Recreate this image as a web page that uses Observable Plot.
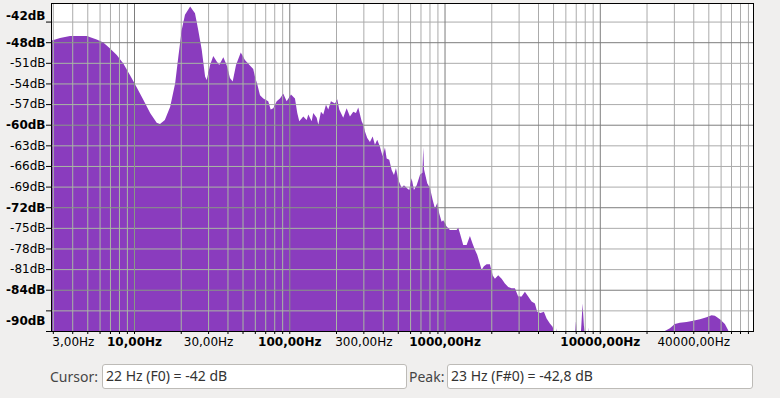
<!DOCTYPE html>
<html><head><meta charset="utf-8">
<script src="https://cdn.jsdelivr.net/npm/d3@7"></script>
<script src="https://cdn.jsdelivr.net/npm/@observablehq/plot@0.6"></script>
<style>
html,body{margin:0;padding:0}
body{background:#f0efee;width:780px;height:398px;overflow:hidden;position:relative;font-family:"Noto Sans",sans-serif}
#chart{position:absolute;left:0;top:0}
.lbl{position:absolute;font-size:14px;color:#454545;line-height:20px}
.box{position:absolute;background:#fff;border:1px solid #bdbbb7;border-radius:3px;box-sizing:border-box;font-size:14px;color:#333;line-height:22px;padding-left:3px;white-space:nowrap}
</style></head><body>
<div id="chart"></div>
<div class="lbl" id="cursorLbl" style="left:50px;top:367px"></div>
<div class="box" id="cursorBox" style="left:102px;top:364px;width:305px;height:25px"></div>
<div class="lbl" id="peakLbl" style="left:409px;top:367px"></div>
<div class="box" id="peakBox" style="left:447px;top:364px;width:306px;height:25px"></div>
<script>
// ---- data ----
const freqHz = [2.92,3.34,3.87,4.96,5.75,6.34,7.01,7.74,8.53,9.43,10.4,11.5,12.7,14.0,14.7,15.8,17.1,18.4,19.3,20.3,21.3,23.0,24.7,25.9,27.3,28.7,29.4,30.9,32.4,34.1,35.4,37.6,39.5,41.5,43.2,45.4,48.7,51.8,55.8,58.6,60.1,62.5,64.8,68.0,73.2,75.9,78.9,83.0,87.1,91.5,96.2,102.6,108.8,112.6,116.0,123.1,129.5,132.6,139.4,142.7,150.2,153.8,160.0,165.6,172.3,178.3,185.5,197.0,203.8,209.9,222.6,234.2,245.9,258.3,268.9,278.2,292.6,299.6,307.2,317.9,330.8,344.4,356.2,368.6,383.7,399.4,413.3,423.9,440.5,456.5,472.4,486.6,503.5,529.5,547.8,570.2,592.6,614.1,635.4,661.4,694.5,720,729.4,738,773.8,805.4,838.3,867.4,897.5,924.5,957.9,980.8,1031.6,1083.3,1137.6,1196.4,1225.1,1256.5,1319.3,1387.5,1457.2,1516.7,1569.3,1623.7,1672.6,1733.0,1793.1,1866.4,1960.0,2040.2,2110.9,2216.9,2331.5,2448.4,2571.3,2704.3,2839.5,2982.1,3136.3,3293.2,3458.6,3637.4,3819.6,3952.0,4156.4,4365.2,4544.0,4771.3,4966.6,5139,5200,5266,5330,6920,7017,7120,7520,7610,7747,7899,8050,8330,8420,8500,26000,26260,28280,30450,32800,36220,39950,44120,48720,52480,55120,59360,63920,67110,68810,97000];
const specDb = [-47.8,-47.4,-47.1,-47.1,-47.6,-48.05,-48.9,-49.85,-51.1,-52.8,-54.55,-56.4,-58.3,-59.7,-59.9,-59.3,-57.4,-54.0,-50.1,-46.2,-44.0,-42.8,-43.8,-46.2,-49.1,-53.0,-53.5,-51.3,-50.0,-50.8,-51.3,-50.2,-51.3,-53.2,-53.7,-51.3,-49.5,-50.6,-51.4,-51.9,-53.0,-54.3,-55.7,-56.2,-56.6,-57.8,-57.6,-56.6,-56.2,-55.5,-56.6,-55.6,-56.2,-58.3,-59.5,-58.8,-59.3,-58.5,-59.5,-58.3,-59.0,-60.0,-58.1,-58.5,-57.1,-57.8,-56.6,-56.9,-56.3,-57.8,-59.0,-57.6,-58.8,-58.1,-58.3,-57.5,-59.5,-60.0,-61.0,-61.95,-62.5,-61.7,-62.9,-62.2,-63.2,-64.6,-63.3,-64.9,-65.1,-66.6,-67.3,-66.3,-68.0,-69.2,-68.8,-69.2,-69.5,-67.8,-69.5,-68.8,-67.3,-67.0,-63.3,-66.5,-68.5,-69.2,-70.9,-72.2,-71.4,-72.9,-74.1,-73.9,-74.8,-75.3,-75.3,-75.3,-75.0,-75.8,-77.5,-77.5,-76.2,-77.3,-78.2,-78.9,-79.9,-81.1,-80.6,-80.3,-80.3,-81.9,-82.4,-81.9,-82.4,-83.1,-83.6,-83.8,-83.8,-85.0,-85.0,-84.3,-85.0,-85.7,-86.0,-87.2,-87.4,-87.2,-88.2,-88.9,-89.4,-90.5,-91,-89.6,-91,-91,-88.6,-91,-91,-89.1,-86.0,-89.2,-91,-91,-89.5,-91,-91,-90,-89.6,-89.0,-88.8,-88.7,-88.5,-88.3,-88.0,-87.7,-87.8,-88.3,-89.0,-89.9,-91,-91];

const xDomain = [2.92, 97000];
const yDomain = [-90, -42.3];
const xTickFreqs = [3,4,5,6,7,8,9,10,20,30,40,50,60,70,80,90,100,200,300,400,500,600,700,800,900,1000,2000,3000,4000,5000,6000,7000,8000,9000,10000,20000,30000,40000,50000,60000,70000,80000,90000];
const vGridMajor = [10,100,1000,10000];
const vGridMinor = [3,4,5,6,7,8,9,20,30,40,50,60,70,80,90,200,300,400,500,600,700,800,900,2000,3000,4000,5000,6000,7000,8000,9000,20000,30000,40000,50000,60000,70000,80000,90000];
const yTickDb = [-90,-87,-84,-81,-78,-75,-72,-69,-66,-63,-60,-57,-54,-51,-48,-45];
const hGridMajor = [-84,-72,-60,-48];
const hGridMinor = [-87,-81,-78,-75,-69,-66,-63,-57,-54,-51,-45];
const yLabelsNormal = [-51,-54,-57,-63,-66,-69,-75,-78,-81];
const yLabelsBold = [-48,-60,-72,-84];
const yLabelTop = ["-42dB"];
const yLabelBottom = ["-90dB"];
const xLabelsNormal = [30,300,40000];
const xLabelsBold = [10,100,1000,10000];
const xLabelFirst = [3];
const cursorText = ["Cursor:", "22 Hz (F0) = -42 dB"];
const peakText = ["Peak:", "23 Hz (F#0) = -42,8 dB"];

const spectrum = freqHz.map((f, i) => ({f, db: specDb[i]}));
const hz = d => d.toFixed(2).replace(".", ",") + "Hz";
const dbl = d => `${d}dB`;

const C = {fill:"#8a3cbe", minor:"#ababab", major:"#7d7d7d", minorIn:"#a9b8a3", majorIn:"#889884"};

const chart = Plot.plot({
  width: 780, height: 356,
  marginLeft: 51, marginRight: 27, marginTop: 3, marginBottom: 25,
  style: {background: "transparent", color: "#000", fontFamily: "DejaVu Sans", fontSize: "12px"},
  x: {type: "log", domain: xDomain, ticks: xTickFreqs, tickFormat: () => "", tickSize: 3, label: null},
  y: {domain: yDomain, ticks: yTickDb, tickFormat: () => "", tickSize: 5, label: null},
  marks: [
    Plot.frame({fill: "white"}),
    Plot.ruleX(vGridMinor, {stroke: C.minor}),
    Plot.ruleY(hGridMinor, {stroke: C.minor}),
    Plot.ruleX(vGridMajor, {stroke: C.major}),
    Plot.ruleY(hGridMajor, {stroke: C.major}),
    Plot.areaY(spectrum, {x: "f", y1: yDomain[0], y2: "db", fill: C.fill, clip: true}),
    Plot.ruleX(vGridMinor, {stroke: C.minorIn, ariaDescription: "grid-on-fill"}),
    Plot.ruleY(hGridMinor, {stroke: C.minorIn, ariaDescription: "grid-on-fill"}),
    Plot.ruleX(vGridMajor, {stroke: C.majorIn, ariaDescription: "grid-on-fill"}),
    Plot.ruleY(hGridMajor, {stroke: C.majorIn, ariaDescription: "grid-on-fill"}),
    Plot.frame({stroke: "#000"}),
    Plot.text(yLabelsNormal, {y: d => d, text: dbl, frameAnchor: "left", dx: -6, textAnchor: "end"}),
    Plot.text(yLabelsBold, {y: d => d, text: dbl, frameAnchor: "left", dx: -6, textAnchor: "end", fontWeight: "bold"}),
    Plot.text(yLabelTop, {text: d => d, frameAnchor: "top-left", dx: -6, dy: 8, textAnchor: "end", fontWeight: "bold"}),
    Plot.text(yLabelBottom, {text: d => d, frameAnchor: "bottom-left", dx: -6, dy: -7, textAnchor: "end", fontWeight: "bold"}),
    Plot.text(xLabelsNormal, {x: d => d, text: hz, frameAnchor: "bottom", dy: 14}),
    Plot.text(xLabelsBold, {x: d => d, text: hz, frameAnchor: "bottom", dy: 14, fontWeight: "bold"}),
    Plot.text(xLabelFirst, {x: d => d, text: hz, frameAnchor: "bottom", dy: 14, textAnchor: "start", dx: -1})
  ]
});
document.getElementById("chart").appendChild(chart);

// clip the "over fill" grid copy to the filled spectrum shape
const ns = "http://www.w3.org/2000/svg";
const areaG = chart.querySelector('g[aria-label="area"]');
if (areaG) {
  const ap = areaG.querySelector("path");
  const defs = document.createElementNS(ns, "defs");
  const cp = document.createElementNS(ns, "clipPath");
  cp.setAttribute("id", "fillclip");
  const p = document.createElementNS(ns, "path");
  p.setAttribute("d", ap.getAttribute("d"));
  if (areaG.getAttribute("transform")) p.setAttribute("transform", areaG.getAttribute("transform"));
  cp.appendChild(p); defs.appendChild(cp);
  chart.insertBefore(defs, chart.firstChild);
  chart.querySelectorAll('g[aria-description="grid-on-fill"]').forEach(g => g.setAttribute("clip-path", "url(#fillclip)"));
}

document.getElementById("cursorLbl").textContent = cursorText[0];
document.getElementById("cursorBox").textContent = cursorText[1];
document.getElementById("peakLbl").textContent = peakText[0];
document.getElementById("peakBox").textContent = peakText[1];
</script>
</body></html>
